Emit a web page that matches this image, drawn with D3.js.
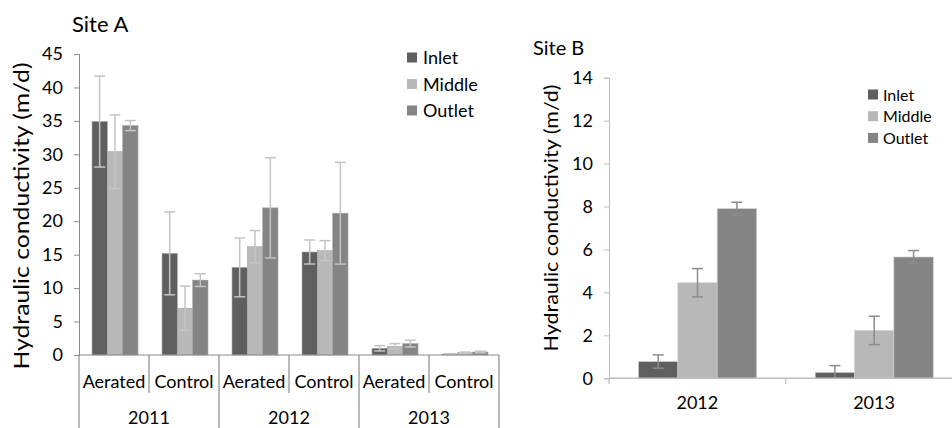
<!DOCTYPE html>
<html><head><meta charset="utf-8">
<script src="https://cdn.jsdelivr.net/npm/d3@7"></script>
<style>
html,body{margin:0;padding:0;background:#fff;overflow:hidden}
text{font-family:Lato,"Open Sans",sans-serif;fill:#000}
</style></head>
<body><svg id="c" width="952" height="428"></svg>
<script>
// ---------- data ----------
const seriesNames = ["Inlet", "Middle", "Outlet"];
const seriesColors = ["#5f5f5f", "#b8b8b8", "#848484"];

// Site A
const siteAYears = ["2011", "2012", "2013"];
const siteATreatments = ["Aerated", "Control"];
const siteAInlet  = [34.9, 15.2, 13.1, 15.4, 1.0, 0.15];
const siteAMiddle = [30.4, 7.0, 16.2, 15.6, 1.3, 0.35];
const siteAOutlet = [34.3, 11.2, 22.0, 21.2, 1.7, 0.45];
const siteAInletErr  = [6.8, 6.2, 4.4, 1.8, 0.4, 0.05];
const siteAMiddleErr = [5.5, 3.3, 2.4, 1.5, 0.4, 0.1];
const siteAOutletErr = [0.75, 0.95, 7.5, 7.6, 0.5, 0.12];
const siteATicks = [0, 5, 10, 15, 20, 25, 30, 35, 40, 45];

// Site B
const siteBYears = ["2012", "2013"];
const siteBInlet  = [0.78, 0.27];
const siteBMiddle = [4.45, 2.23];
const siteBOutlet = [7.9, 5.65];
const siteBInletErr  = [0.31, 0.32];
const siteBMiddleErr = [0.66, 0.66];
const siteBOutletErr = [0.3, 0.3];
const siteBTicks = [0, 2, 4, 6, 8, 10, 12, 14];

const yLabel = "Hydraulic conductivity (m/d)";

const svg = d3.select("#c");

// ---------- Site A ----------
(function(){
  const cats = [];
  siteAYears.forEach(y => siteATreatments.forEach(t => cats.push(y + "|" + t)));
  const vals = [siteAInlet, siteAMiddle, siteAOutlet];
  const errs = [siteAInletErr, siteAMiddleErr, siteAOutletErr];
  const x = d3.scaleBand().domain(cats).range([79, 499]);
  const y = d3.scaleLinear().domain([0, 45]).range([355, 54]);
  const cw = x.bandwidth();
  const xs = d3.scaleBand().domain(seriesNames).range([cw * 0.186, cw * 0.843]);
  const g = svg.append("g");
  const axisColor = "#8a8a8a";

  const ya = g.append("g").attr("transform", "translate(79,0)")
    .call(d3.axisLeft(y).tickValues(siteATicks).tickSize(5).tickPadding(11));
  ya.select(".domain").attr("stroke", axisColor);
  ya.selectAll(".tick line").attr("stroke", axisColor);
  ya.selectAll("text").style("font-size", "18px").attr("fill", "#000");

  seriesNames.forEach((s, si) => {
    const data = cats.map((c, i) => ({c, v: vals[si][i], e: errs[si][i]}));
    g.append("g").selectAll("rect").data(data).join("rect")
      .attr("x", d => x(d.c) + xs(s))
      .attr("y", d => y(d.v))
      .attr("width", xs.bandwidth())
      .attr("height", d => y(0) - y(d.v))
      .attr("fill", seriesColors[si])
      .attr("stroke", "#a8a8a8").attr("stroke-width", 0.6);
  });
  seriesNames.forEach((s, si) => {
    const data = cats.map((c, i) => ({c, v: vals[si][i], e: errs[si][i]}));
    const eg = g.append("g").attr("stroke", "#c4c4c4").attr("stroke-width", 1.5);
    data.forEach(d => {
      const cx = x(d.c) + xs(s) + xs.bandwidth() / 2;
      eg.append("line").attr("x1", cx).attr("x2", cx).attr("y1", y(d.v + d.e)).attr("y2", y(d.v - d.e));
      [d.v + d.e, d.v - d.e].forEach(t => eg.append("line")
        .attr("x1", cx - 5.5).attr("x2", cx + 5.5).attr("y1", y(t)).attr("y2", y(t)));
    });
  });

  g.append("line").attr("x1", 79).attr("x2", 499).attr("y1", 355).attr("y2", 355)
    .attr("stroke", axisColor).attr("stroke-width", 1.2);
  const bounds = cats.map(c => x(c)).concat([x.range()[1]]);
  bounds.forEach((b, i) => {
    const yearEdge = i % siteATreatments.length === 0;
    g.append("line").attr("x1", b).attr("x2", b).attr("y1", 355).attr("y2", yearEdge ? 428 : 393)
      .attr("stroke", axisColor).attr("stroke-width", 1.2);
  });
  g.selectAll(".cat").data(cats).join("text")
    .attr("x", d => x(d) + cw / 2).attr("y", 388)
    .attr("text-anchor", "middle").style("font-size", "18px")
    .text(d => d.split("|")[1]);
  g.selectAll(".yr").data(siteAYears).join("text")
    .attr("x", (d, i) => x(d + "|" + siteATreatments[0]) + cw)
    .attr("y", 424).attr("text-anchor", "middle").style("font-size", "18px")
    .text(d => d);

  g.append("text").attr("x", 72).attr("y", 32).style("font-size", "22px").text("Site A");
  g.append("text").attr("transform", "translate(29,216) rotate(-90)")
    .attr("text-anchor", "middle").style("font-size", "22px")
    .attr("textLength", 307).attr("lengthAdjust", "spacingAndGlyphs").text(yLabel);

  seriesNames.forEach((s, i) => {
    const ly = 57.5 + i * 26.5;
    g.append("rect").attr("x", 407).attr("y", ly - 5).attr("width", 10).attr("height", 10).attr("fill", seriesColors[i]);
    g.append("text").attr("x", 423).attr("y", ly + 6.5).style("font-size", "18px").text(s);
  });
})();

// ---------- Site B ----------
(function(){
  const vals = [siteBInlet, siteBMiddle, siteBOutlet];
  const errs = [siteBInletErr, siteBMiddleErr, siteBOutletErr];
  const x = d3.scaleBand().domain(siteBYears).range([609, 962.4]);
  const y = d3.scaleLinear().domain([0, 14]).range([378.3, 77.7]);
  const cw = x.bandwidth();
  const xs = d3.scaleBand().domain(seriesNames).range([cw * 0.167, cw * 0.835]);
  const g = svg.append("g");
  const axisColor = "#bdbdbd";

  const ya = g.append("g").attr("transform", "translate(609,0)")
    .call(d3.axisLeft(y).tickValues(siteBTicks).tickSize(5).tickPadding(11));
  ya.select(".domain").attr("stroke", axisColor);
  ya.selectAll(".tick line").attr("stroke", axisColor);
  ya.selectAll("text").style("font-size", "18px").attr("fill", "#000");

  seriesNames.forEach((s, si) => {
    const data = siteBYears.map((c, i) => ({c, v: vals[si][i]}));
    g.append("g").selectAll("rect").data(data).join("rect")
      .attr("x", d => x(d.c) + xs(s))
      .attr("y", d => y(d.v))
      .attr("width", xs.bandwidth())
      .attr("height", d => y(0) - y(d.v))
      .attr("fill", seriesColors[si])
      .attr("stroke", "#d0d0d0").attr("stroke-width", 0.6);
  });
  seriesNames.forEach((s, si) => {
    const eg = g.append("g").attr("stroke", "#8c8c8c").attr("stroke-width", 1.5);
    siteBYears.forEach((c, i) => {
      const v = vals[si][i], e = errs[si][i];
      const cx = x(c) + xs(s) + xs.bandwidth() / 2;
      eg.append("line").attr("x1", cx).attr("x2", cx).attr("y1", y(v + e)).attr("y2", y(Math.max(0, v - e)));
      [v + e, v - e].forEach(t => { if (t >= 0) eg.append("line")
        .attr("x1", cx - 5.5).attr("x2", cx + 5.5).attr("y1", y(t)).attr("y2", y(t)); });
    });
  });

  g.append("line").attr("x1", 609).attr("x2", 962).attr("y1", 378.3).attr("y2", 378.3)
    .attr("stroke", axisColor).attr("stroke-width", 1.5);
  siteBYears.forEach(c => g.append("line").attr("x1", x(c)).attr("x2", x(c))
    .attr("y1", 378.3).attr("y2", 384).attr("stroke", axisColor).attr("stroke-width", 1.2));
  g.selectAll(".yr").data(siteBYears).join("text")
    .attr("x", d => x(d) + cw / 2).attr("y", 409)
    .attr("text-anchor", "middle").style("font-size", "18px").text(d => d);

  g.append("text").attr("x", 533).attr("y", 55).style("font-size", "20px").text("Site B");
  g.append("text").attr("transform", "translate(558,218) rotate(-90)")
    .attr("text-anchor", "middle").style("font-size", "20px")
    .attr("textLength", 267).attr("lengthAdjust", "spacingAndGlyphs").text(yLabel);

  seriesNames.forEach((s, i) => {
    const ly = 94.5 + i * 21.7;
    g.append("rect").attr("x", 868).attr("y", ly - 5).attr("width", 10).attr("height", 10).attr("fill", seriesColors[i]);
    g.append("text").attr("x", 883).attr("y", ly + 6).style("font-size", "16px").text(s);
  });
})();
</script></body></html>
